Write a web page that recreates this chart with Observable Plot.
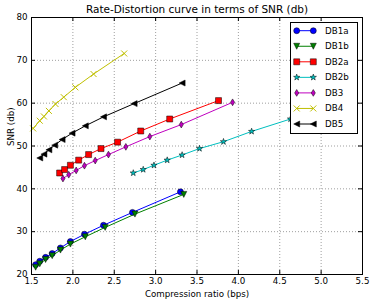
<!DOCTYPE html>
<html>
<head>
<meta charset="utf-8">
<script src="https://cdn.jsdelivr.net/npm/d3@7"></script>
<script src="https://cdn.jsdelivr.net/npm/@observablehq/plot@0.6"></script>
<style>
  html, body { margin: 0; padding: 0; background: white; }
</style>
</head>
<body>
<div id="chart"></div>
<script>
const seriesNames = ["DB1a", "DB1b", "DB2a", "DB2b", "DB3", "DB4", "DB5"];
const seriesColors = ["#0000ff", "#008000", "#ff0000", "#00bfbf", "#bf00bf", "#bfbf00", "#000000"];

const db1aX = [1.55, 1.60, 1.67, 1.75, 1.85, 1.97, 2.14, 2.37, 2.72, 3.30];
const db1aY = [22.3, 23.1, 24.0, 24.9, 26.2, 27.7, 29.4, 31.5, 34.5, 39.3];
const db1bX = [1.55, 1.60, 1.67, 1.75, 1.85, 1.97, 2.15, 2.39, 2.75, 3.34];
const db1bY = [21.7, 22.5, 23.5, 24.4, 25.7, 27.1, 28.8, 31.0, 34.1, 38.7];
const db2aX = [1.84, 1.90, 1.97, 2.07, 2.19, 2.34, 2.54, 2.82, 3.17, 3.76];
const db2aY = [43.7, 44.5, 45.5, 46.7, 48.0, 49.4, 50.9, 53.5, 56.3, 60.6];
const db2bX = [2.73, 2.85, 2.98, 3.14, 3.32, 3.53, 3.82, 4.16, 4.63];
const db2bY = [43.7, 44.5, 45.5, 46.7, 47.9, 49.4, 51.0, 53.4, 56.3];
const db3X  = [1.88, 1.95, 2.04, 2.14, 2.27, 2.43, 2.64, 2.93, 3.31, 3.93];
const db3Y  = [42.4, 43.3, 44.3, 45.4, 46.6, 48.0, 49.8, 52.2, 55.0, 60.2];
const db4X  = [1.52, 1.60, 1.65, 1.71, 1.79, 1.89, 2.03, 2.25, 2.62];
const db4Y  = [54.1, 55.9, 56.9, 58.2, 59.8, 61.4, 63.7, 66.8, 71.6];
const db5X  = [1.60, 1.65, 1.71, 1.78, 1.87, 1.99, 2.15, 2.37, 2.74, 3.32];
const db5Y  = [47.2, 48.1, 49.1, 50.2, 51.5, 53.0, 54.7, 56.8, 59.9, 64.7];

const xTicks = [1.5, 2.0, 2.5, 3.0, 3.5, 4.0, 4.5, 5.0, 5.5];
const yTicks = [20, 30, 40, 50, 60, 70, 80];

const titleText = "Rate-Distortion curve in terms of SNR (db)";
const xLabel = "Compression ratio (bps)";
const yLabel = "SNR (db)";

// custom marker shapes (matplotlib-like)
const rad = s => Math.sqrt(s / Math.PI);
const symCircle = d3.symbolCircle;
const symTriDown = {draw(c, s) { const r = rad(s); c.moveTo(-r, -r); c.lineTo(r, -r); c.lineTo(0, r); c.closePath(); }};
const symTriLeft = {draw(c, s) { const r = rad(s); c.moveTo(r, -r); c.lineTo(r, r); c.lineTo(-r, 0); c.closePath(); }};
const symSquare = {draw(c, s) { const r = rad(s); c.rect(-r, -r, 2 * r, 2 * r); }};
const symThinDiamond = {draw(c, s) { const r = rad(s); c.moveTo(0, -r); c.lineTo(0.6 * r, 0); c.lineTo(0, r); c.lineTo(-0.6 * r, 0); c.closePath(); }};
const symStar = {draw(c, s) {
  const r = rad(s) * 1.1, ri = r * 0.4;
  for (let i = 0; i < 10; i++) {
    const a = -Math.PI / 2 + i * Math.PI / 5, rr = i % 2 ? ri : r;
    const x = rr * Math.cos(a), y = rr * Math.sin(a);
    i ? c.lineTo(x, y) : c.moveTo(x, y);
  }
  c.closePath();
}};
const symX = {draw(c, s) { const r = rad(s); c.moveTo(-r, -r); c.lineTo(r, r); c.moveTo(-r, r); c.lineTo(r, -r); }};

const symbols = [symCircle, symTriDown, symSquare, symStar, symThinDiamond, symX, symTriLeft];
const sizes = [3.0, 3.0, 3.0, 3.0, 3.4, 3.0, 3.0];
const xs = [db1aX, db1bX, db2aX, db2bX, db3X, db4X, db5X];
const ys = [db1aY, db1bY, db2aY, db2bY, db3Y, db4Y, db5Y];

const series = seriesNames.map((name, i) => ({
  name, color: seriesColors[i], symbol: symbols[i], r: sizes[i],
  data: xs[i].map((x, j) => ({x, y: ys[i][j]}))
}));

const W = 374, H = 303, mL = 31, mR = 12, mT = 17, mB = 29;
const plotW = W - mL - mR, plotH = H - mT - mB;
const tick = 4;
const FONT = "DejaVu Sans";
const small = 8.7, big = 10.5;

const marks = [];
// grid
marks.push(Plot.ruleX(xTicks, {x: d => d, stroke: "#000", strokeOpacity: 0.55, strokeWidth: 0.7, strokeDasharray: "1,2"}));
marks.push(Plot.ruleY(yTicks, {y: d => d, stroke: "#000", strokeOpacity: 0.55, strokeWidth: 0.7, strokeDasharray: "1,2"}));
// series
for (const s of series) {
  marks.push(Plot.line(s.data, {x: "x", y: "y", stroke: s.color, strokeWidth: 1}));
  const isX = s.symbol === symX;
  marks.push(Plot.dot(s.data, {
    x: "x", y: "y", symbol: () => s.symbol, r: s.r,
    fill: isX ? "none" : s.color,
    stroke: isX ? s.color : "#000",
    strokeWidth: isX ? 1 : 0.5
  }));
}
// frame
marks.push(Plot.frame({stroke: "#000", strokeWidth: 1}));
// inward ticks on all four sides
marks.push(Plot.ruleX(xTicks, {x: d => d, insetTop: plotH - tick, stroke: "#000"}));
marks.push(Plot.ruleX(xTicks, {x: d => d, insetBottom: plotH - tick, stroke: "#000"}));
marks.push(Plot.ruleY(yTicks, {y: d => d, insetRight: plotW - tick, stroke: "#000"}));
marks.push(Plot.ruleY(yTicks, {y: d => d, insetLeft: plotW - tick, stroke: "#000"}));
// tick labels
marks.push(Plot.axisX(xTicks, {tickSize: 0, tickPadding: 3, tickFormat: d => d.toFixed(1), fontSize: small, fill: "#000", label: null}));
marks.push(Plot.axisY(yTicks, {tickSize: 0, tickPadding: 4, tickFormat: d => String(d), fontSize: small, fill: "#000", label: null}));
// labels
marks.push(Plot.text([titleText], {text: d => d, frameAnchor: "top", lineAnchor: "middle", dy: -7.5, fontSize: big, fill: "#000"}));
marks.push(Plot.text([xLabel], {text: d => d, frameAnchor: "bottom", lineAnchor: "middle", dy: 19.5, fontSize: small, fill: "#000"}));
marks.push(Plot.text([yLabel], {text: d => d, frameAnchor: "left", lineAnchor: "middle", dx: -20, rotate: -90, fontSize: small, fill: "#000"}));

const chart = Plot.plot({
  width: W, height: H,
  marginLeft: mL, marginRight: mR, marginTop: mT, marginBottom: mB,
  x: {domain: [1.5, 5.5], axis: null},
  y: {domain: [20, 80], axis: null},
  style: {fontFamily: FONT, background: "white", overflow: "visible"},
  marks
});

// legend
const svg = d3.select(chart);
const lg = svg.append("g").attr("font-family", FONT).attr("font-size", small).attr("text-anchor", "start");
const lx = 290.5, ly = 22.5, lw = 67, lh = 111;
lg.append("rect").attr("x", lx).attr("y", ly).attr("width", lw).attr("height", lh)
  .attr("fill", "white").attr("stroke", "#000").attr("stroke-width", 1);
series.forEach((s, i) => {
  const cy = 30.7 + i * 15.55;
  const x1 = 296.7, x2 = 313.3;
  lg.append("line").attr("x1", x1).attr("x2", x2).attr("y1", cy).attr("y2", cy)
    .attr("stroke", s.color).attr("stroke-width", 1);
  const isX = s.symbol === symX;
  const path = d3.symbol(s.symbol, s.r * s.r * Math.PI)();
  [x1, x2].forEach(px => {
    lg.append("path").attr("d", path).attr("transform", `translate(${px},${cy})`)
      .attr("fill", isX ? "none" : s.color)
      .attr("stroke", isX ? s.color : "#000")
      .attr("stroke-width", isX ? 1 : 0.5);
  });
  lg.append("text").attr("x", 325).attr("y", cy).attr("dy", "0.35em").attr("fill", "#000").text(s.name);
});

document.getElementById("chart").appendChild(chart);
</script>
</body>
</html>
